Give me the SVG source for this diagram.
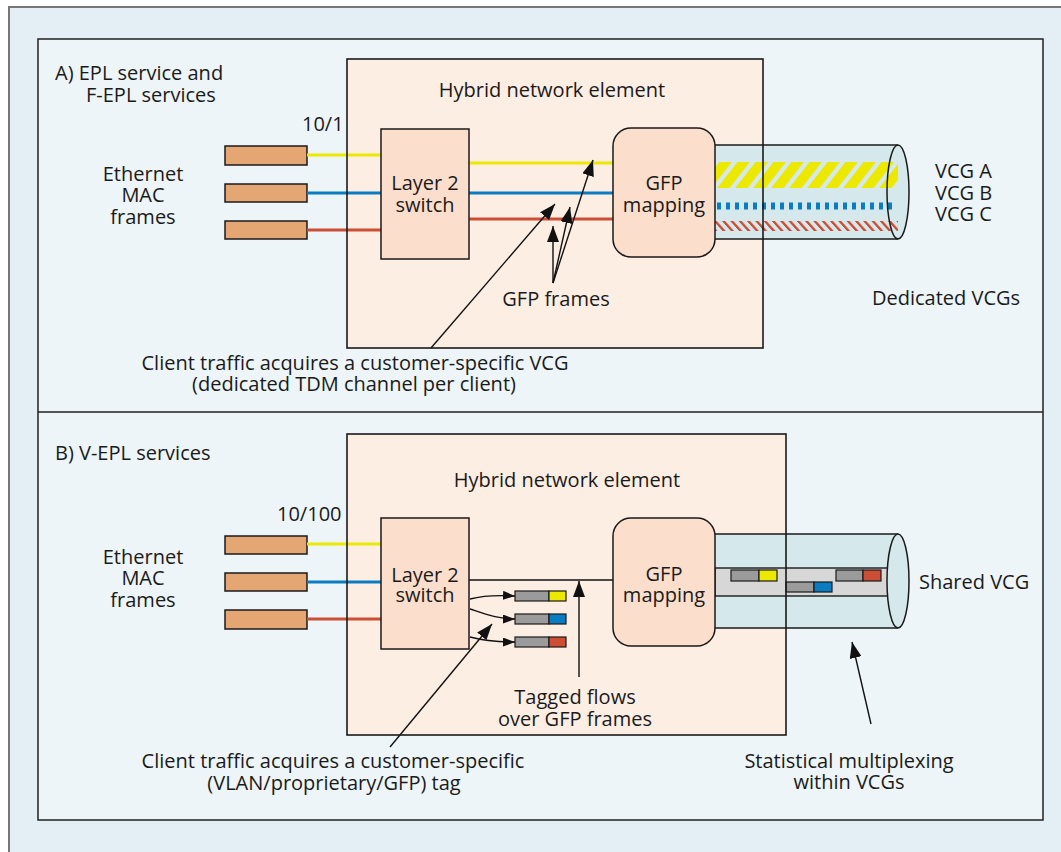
<svg xmlns="http://www.w3.org/2000/svg" width="1061" height="852" viewBox="0 0 1061 852">
  <style>
    text { font-family: "Open Sans", "Liberation Sans", sans-serif; font-size: 20px; fill: #1a1a1a; }
    .mid { text-anchor: middle; }
    .panel { fill: #edf5f8; stroke: #222; stroke-width: 1.5; }
    .hne { fill: #fdeee4; stroke: none; }
    .hne-edge { fill: none; stroke: #1a1a1a; stroke-width: 1.6; }
    .blk { fill: #fbdfcc; stroke: #1a1a1a; stroke-width: 1.5; }
    .mac { fill: #e4a672; stroke: #1a1a1a; stroke-width: 1.5; }
    .yel { stroke: #ede800; stroke-width: 3; fill: none; }
    .blu { stroke: #0a7dc2; stroke-width: 3; fill: none; }
    .red { stroke: #cc4f35; stroke-width: 3; fill: none; }
    .cyl { fill: #d5e9ed; stroke: none; }
    .cyl-edge { fill: none; stroke: #1a1a1a; stroke-width: 1.5; }
    .arr { stroke: #111; stroke-width: 1.4; fill: none; marker-end: url(#head); }
    .arr-s { stroke: #111; stroke-width: 1.4; fill: none; marker-end: url(#head-s); }
    .tag-g { fill: #9b9b9b; stroke: #1a1a1a; stroke-width: 1.2; }
    .tag-y { fill: #ede800; stroke: #1a1a1a; stroke-width: 1.2; }
    .tag-b { fill: #0a7dc2; stroke: #1a1a1a; stroke-width: 1.2; }
    .tag-r { fill: #cc4f35; stroke: #1a1a1a; stroke-width: 1.2; }
  </style>
  <defs>
    <marker id="head" markerUnits="userSpaceOnUse" markerWidth="16" markerHeight="12" refX="16" refY="6" orient="auto">
      <path d="M0,0 L16,6 L0,12 z" fill="#111"/>
    </marker>
    <marker id="head-s" markerUnits="userSpaceOnUse" markerWidth="12" markerHeight="9" refX="12" refY="4.5" orient="auto">
      <path d="M0,0 L12,4.5 L0,9 z" fill="#111"/>
    </marker>
    <pattern id="hatch-yellow" patternUnits="userSpaceOnUse" width="18" height="40" patternTransform="skewX(-38)">
      <rect x="0" y="0" width="12.5" height="40" fill="#ede800"/>
    </pattern>
    <pattern id="hatch-red" patternUnits="userSpaceOnUse" width="8.3" height="20" patternTransform="skewX(42)">
      <rect x="0" y="0" width="3.2" height="20" fill="#cc4f35"/>
    </pattern>
  </defs>

  <!-- outer frame and panels -->
  <rect x="9" y="7" width="1070" height="860" fill="#e3eef5" stroke="#777" stroke-width="2"/>
  <rect class="panel" x="38" y="39" width="1005" height="781"/>
  <line x1="38" y1="412" x2="1043" y2="412" stroke="#222" stroke-width="1.5"/>

  <!-- ===== Part A ===== -->
  <text x="55" y="80">A) EPL service and</text>
  <text x="86" y="102">F-EPL services</text>

  <g id="hne-a">
    <rect class="hne" x="347" y="59" width="416" height="289"/>
    <text class="mid" x="552" y="97">Hybrid network element</text>
  </g>

  <g id="mac-a">
    <rect class="mac" x="225" y="146" width="82" height="19"/>
    <rect class="mac" x="225" y="184" width="82" height="18"/>
    <rect class="mac" x="225" y="221" width="82" height="18"/>
    <text x="302" y="131">10/1</text>
    <text class="mid" x="143" y="181">Ethernet</text>
    <text class="mid" x="143" y="202">MAC</text>
    <text class="mid" x="143" y="224">frames</text>
  </g>

  <g id="vcg-a">
    <rect class="cyl" x="715" y="145" width="183" height="94"/>
    <ellipse class="cyl" cx="898" cy="192" rx="11" ry="47"/>
    <rect x="715" y="162" width="183" height="26" fill="url(#hatch-yellow)"/>
    <line x1="717" y1="206" x2="897" y2="206" stroke="#0a7dc2" stroke-width="7" stroke-dasharray="4 5"/>
    <rect x="715" y="221" width="183" height="10" fill="url(#hatch-red)"/>
    <path class="cyl-edge" d="M715,145 H898 M715,239 H898"/>
    <ellipse class="cyl-edge" cx="898" cy="192" rx="11" ry="47"/>
    <text x="935" y="178">VCG A</text>
    <text x="935" y="200">VCG B</text>
    <text x="935" y="221">VCG C</text>
    <text x="872" y="305">Dedicated VCGs</text>
  </g>

  <g id="connectors-a">
    <line class="yel" x1="307" y1="155" x2="381" y2="155"/>
    <line class="blu" x1="307" y1="193" x2="381" y2="193"/>
    <line class="red" x1="307" y1="230" x2="381" y2="230"/>
    <line class="yel" x1="469" y1="163" x2="613" y2="163"/>
    <line class="blu" x1="469" y1="193" x2="613" y2="193"/>
    <line class="red" x1="469" y1="219" x2="613" y2="219"/>
    <line class="arr" x1="553" y1="283" x2="553" y2="226"/>
    <line class="arr" x1="553" y1="283" x2="570" y2="207"/>
    <line class="arr" x1="553" y1="283" x2="593" y2="160"/>
    <line class="arr" x1="431" y1="348" x2="555" y2="204"/>
  </g>

  <g id="switch-a">
    <rect class="blk" x="381" y="129" width="88" height="130"/>
    <text class="mid" x="425" y="190">Layer 2</text>
    <text class="mid" x="425" y="212">switch</text>
  </g>

  <g id="gfp-a">
    <rect class="blk" x="613" y="128" width="102" height="129" rx="18"/>
    <text class="mid" x="664" y="190">GFP</text>
    <text class="mid" x="664" y="212">mapping</text>
  </g>

  <rect class="hne-edge" x="347" y="59" width="416" height="289"/>

  <g id="labels-a">
    <text class="mid" x="556" y="306">GFP frames</text>
    <text class="mid" x="355" y="370">Client traffic acquires a customer-specific VCG</text>
    <text class="mid" x="354" y="391">(dedicated TDM channel per client)</text>
  </g>

  <!-- ===== Part B ===== -->
  <text x="55" y="460">B) V-EPL services</text>

  <g id="hne-b">
    <rect class="hne" x="347" y="434" width="439" height="301"/>
    <text class="mid" x="567" y="487">Hybrid network element</text>
  </g>

  <g id="mac-b">
    <rect class="mac" x="225" y="536" width="82" height="18"/>
    <rect class="mac" x="225" y="573" width="82" height="18"/>
    <rect class="mac" x="225" y="610" width="82" height="19"/>
    <text x="277" y="521">10/100</text>
    <text class="mid" x="143" y="564">Ethernet</text>
    <text class="mid" x="143" y="585">MAC</text>
    <text class="mid" x="143" y="607">frames</text>
  </g>

  <g id="vcg-b">
    <rect class="cyl" x="715" y="534" width="183" height="94"/>
    <path class="cyl-edge" d="M715,534 H898 M715,628 H898"/>
    <rect x="715" y="568" width="180" height="28" fill="#d7d7d7" stroke="#1a1a1a" stroke-width="1.4"/>
    <rect class="tag-g" x="731" y="570" width="28" height="11"/>
    <rect class="tag-y" x="759" y="570" width="18" height="11"/>
    <rect class="tag-g" x="786" y="582" width="28" height="10"/>
    <rect class="tag-b" x="814" y="582" width="18" height="10"/>
    <rect class="tag-g" x="836" y="570" width="27" height="11"/>
    <rect class="tag-r" x="863" y="570" width="18" height="11"/>
    <ellipse cx="898" cy="581" rx="11" ry="47" fill="#d5e9ed" stroke="#1a1a1a" stroke-width="1.5"/>
    <text x="919" y="589">Shared VCG</text>
  </g>

  <g id="tags-b">
    <rect class="tag-g" x="515" y="591" width="34" height="10"/>
    <rect class="tag-y" x="549" y="591" width="17" height="10"/>
    <rect class="tag-g" x="515" y="614" width="34" height="10"/>
    <rect class="tag-b" x="549" y="614" width="17" height="10"/>
    <rect class="tag-g" x="515" y="637" width="34" height="10"/>
    <rect class="tag-r" x="549" y="637" width="17" height="10"/>
  </g>

  <g id="connectors-b">
    <line class="yel" x1="307" y1="544" x2="381" y2="544"/>
    <line class="blu" x1="307" y1="582" x2="381" y2="582"/>
    <line class="red" x1="307" y1="619" x2="381" y2="619"/>
    <line x1="469" y1="580" x2="613" y2="580" stroke="#111" stroke-width="1.4"/>
    <path class="arr-s" d="M470,599 C485,595 498,595 515,596"/>
    <path class="arr-s" d="M470,609 C485,614 498,619 515,619"/>
    <path class="arr-s" d="M470,637 C485,641 498,642 515,642"/>
    <line class="arr" x1="579" y1="677" x2="579" y2="581"/>
    <line class="arr" x1="390" y1="747" x2="492" y2="624"/>
    <line class="arr" x1="871" y1="724" x2="852" y2="642"/>
  </g>

  <g id="switch-b">
    <rect class="blk" x="381" y="518" width="88" height="131"/>
    <text class="mid" x="425" y="582">Layer 2</text>
    <text class="mid" x="425" y="602">switch</text>
  </g>

  <g id="gfp-b">
    <rect class="blk" x="613" y="518" width="102" height="128" rx="18"/>
    <text class="mid" x="664" y="581">GFP</text>
    <text class="mid" x="664" y="602">mapping</text>
  </g>

  <rect class="hne-edge" x="347" y="434" width="439" height="301"/>

  <g id="labels-b">
    <text class="mid" x="575" y="704">Tagged flows</text>
    <text class="mid" x="575" y="726">over GFP frames</text>
    <text class="mid" x="333" y="768">Client traffic acquires a customer-specific</text>
    <text class="mid" x="334" y="790">(VLAN/proprietary/GFP) tag</text>
    <text class="mid" x="849" y="768">Statistical multiplexing</text>
    <text class="mid" x="849" y="789">within VCGs</text>
  </g>
</svg>
